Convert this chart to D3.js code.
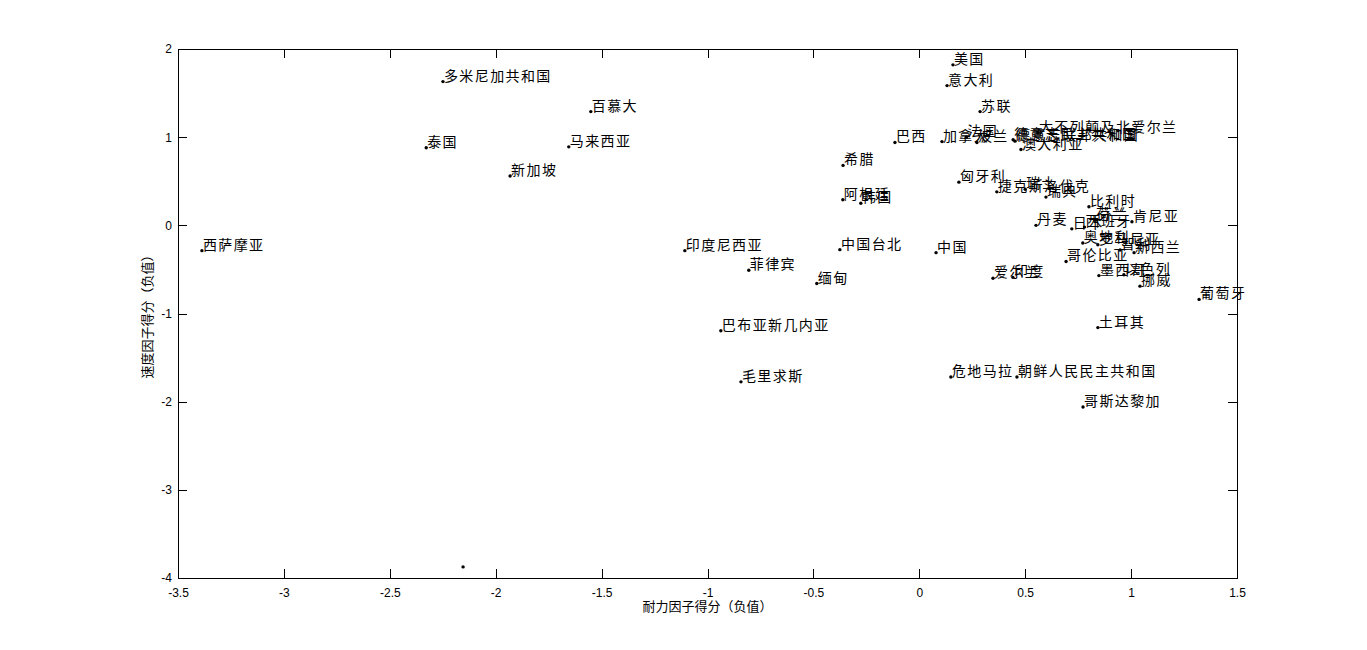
<!DOCTYPE html>
<html><head><meta charset="utf-8">
<script src="https://cdn.jsdelivr.net/npm/d3@7"></script>
<style>
body{margin:0;background:#fff;}
svg{display:block;}
.lbl{font-family:"Noto Sans CJK SC","Noto Sans",sans-serif;font-size:14px;letter-spacing:1.4px;fill:#000;}
.tick text{font-family:"Liberation Sans",Arial,sans-serif;font-size:12px;fill:#000;}
.axt{font-family:"Noto Sans CJK SC",sans-serif;font-size:13px;fill:#000;}
</style></head><body>
<script>
// ---- data ----
const countries = ["西萨摩亚","多米尼加共和国","百慕大","泰国","马来西亚","新加坡","","印度尼西亚","中国台北","中国","菲律宾","缅甸","巴布亚新几内亚","毛里求斯","土耳其","危地马拉","朝鲜人民民主共和国","哥斯达黎加","葡萄牙","美国","意大利","苏联","巴西","加拿大","法国","波兰","德意志民主共和国","德意志联邦共和国","澳大利亚","大不列颠及北爱尔兰","匈牙利","捷克斯洛伐克","瑞士","瑞典","比利时","丹麦","日本","西班牙","芬兰","荷兰","肯尼亚","奥地利","罗马尼亚","智利","新西兰","哥伦比亚","墨西哥","以色列","挪威","爱尔兰","印度","希腊","阿根廷","韩国"];
const enduranceScores = [-3.387,-2.249,-1.551,-2.328,-1.655,-1.932,-2.154,-1.107,-0.375,0.079,-0.805,-0.484,-0.937,-0.842,0.843,0.149,0.461,0.773,1.321,0.159,0.131,0.287,-0.115,0.107,0.222,0.272,0.443,0.452,0.480,0.560,0.187,0.366,0.500,0.598,0.801,0.551,0.720,0.780,0.838,0.830,1.004,0.772,0.843,0.948,1.014,0.693,0.848,0.966,1.042,0.348,0.442,-0.360,-0.361,-0.276];
const speedScores = [-0.287,1.630,1.290,0.880,0.890,0.560,-3.874,-0.287,-0.276,-0.310,-0.510,-0.660,-1.195,-1.775,-1.160,-1.720,-1.720,-2.060,-0.840,1.820,1.585,1.290,0.940,0.950,1.000,0.940,0.970,0.955,0.860,1.050,0.490,0.380,0.410,0.320,0.210,0.000,-0.040,-0.020,0.065,0.060,0.040,-0.200,-0.220,-0.280,-0.310,-0.410,-0.570,-0.560,-0.690,-0.600,-0.590,0.680,0.290,0.250];
const xTicks = [-3.5,-3,-2.5,-2,-1.5,-1,-0.5,0,0.5,1,1.5];
const yTicks = [-4,-3,-2,-1,0,1,2];
const xTitle = "耐力因子得分（负值）";
const yTitle = "速度因子得分（负值）";

const W=1367,H=650, L=178,R=1237,T=49,B=578;
const svg=d3.select("body").append("svg").attr("width",W).attr("height",H);
const x=d3.scaleLinear().domain([-3.5,1.5]).range([L,R]);
const y=d3.scaleLinear().domain([-4,2]).range([B,T]);
const tl=9;
const fmt=d=>String(d);
const gx=svg.append("g").attr("transform",`translate(0,${B})`).call(d3.axisBottom(x).tickValues(xTicks).tickFormat(fmt).tickSizeInner(-tl).tickSizeOuter(0).tickPadding(8));
const gxt=svg.append("g").attr("transform",`translate(0,${T})`).call(d3.axisTop(x).tickValues(xTicks).tickFormat("").tickSizeInner(-tl).tickSizeOuter(0));
const gy=svg.append("g").attr("transform",`translate(${L},0)`).call(d3.axisLeft(y).tickValues(yTicks).tickFormat(fmt).tickSizeInner(-tl).tickSizeOuter(0).tickPadding(6));
const gyr=svg.append("g").attr("transform",`translate(${R},0)`).call(d3.axisRight(y).tickValues(yTicks).tickFormat("").tickSizeInner(-tl).tickSizeOuter(0));
[gx,gxt,gy,gyr].forEach(g=>{g.selectAll("path,line").attr("stroke","#000").attr("shape-rendering","crispEdges");});
gx.selectAll(".tick text").attr("dy","0.9em");
svg.append("rect").attr("x",L).attr("y",T).attr("width",R-L).attr("height",B-T).attr("fill","none").attr("stroke","#000").attr("shape-rendering","crispEdges");

svg.append("text").attr("class","axt").attr("x",(L+R)/2).attr("y",611).attr("text-anchor","middle").text(xTitle);
svg.append("text").attr("class","axt").attr("transform",`translate(152,${(T+B)/2}) rotate(-90)`).attr("text-anchor","middle").text(yTitle);

const data=countries.map((c,i)=>({c,x:enduranceScores[i],y:speedScores[i]}));
const g=svg.append("g");
g.selectAll("circle").data(data).join("circle").attr("cx",d=>x(d.x)).attr("cy",d=>y(d.y)).attr("r",1.7).attr("fill","#000");
g.selectAll("text").data(data).join("text").attr("class","lbl").attr("x",d=>x(d.x)+1).attr("y",d=>y(d.y)-1).text(d=>d.c);
</script></body></html>
